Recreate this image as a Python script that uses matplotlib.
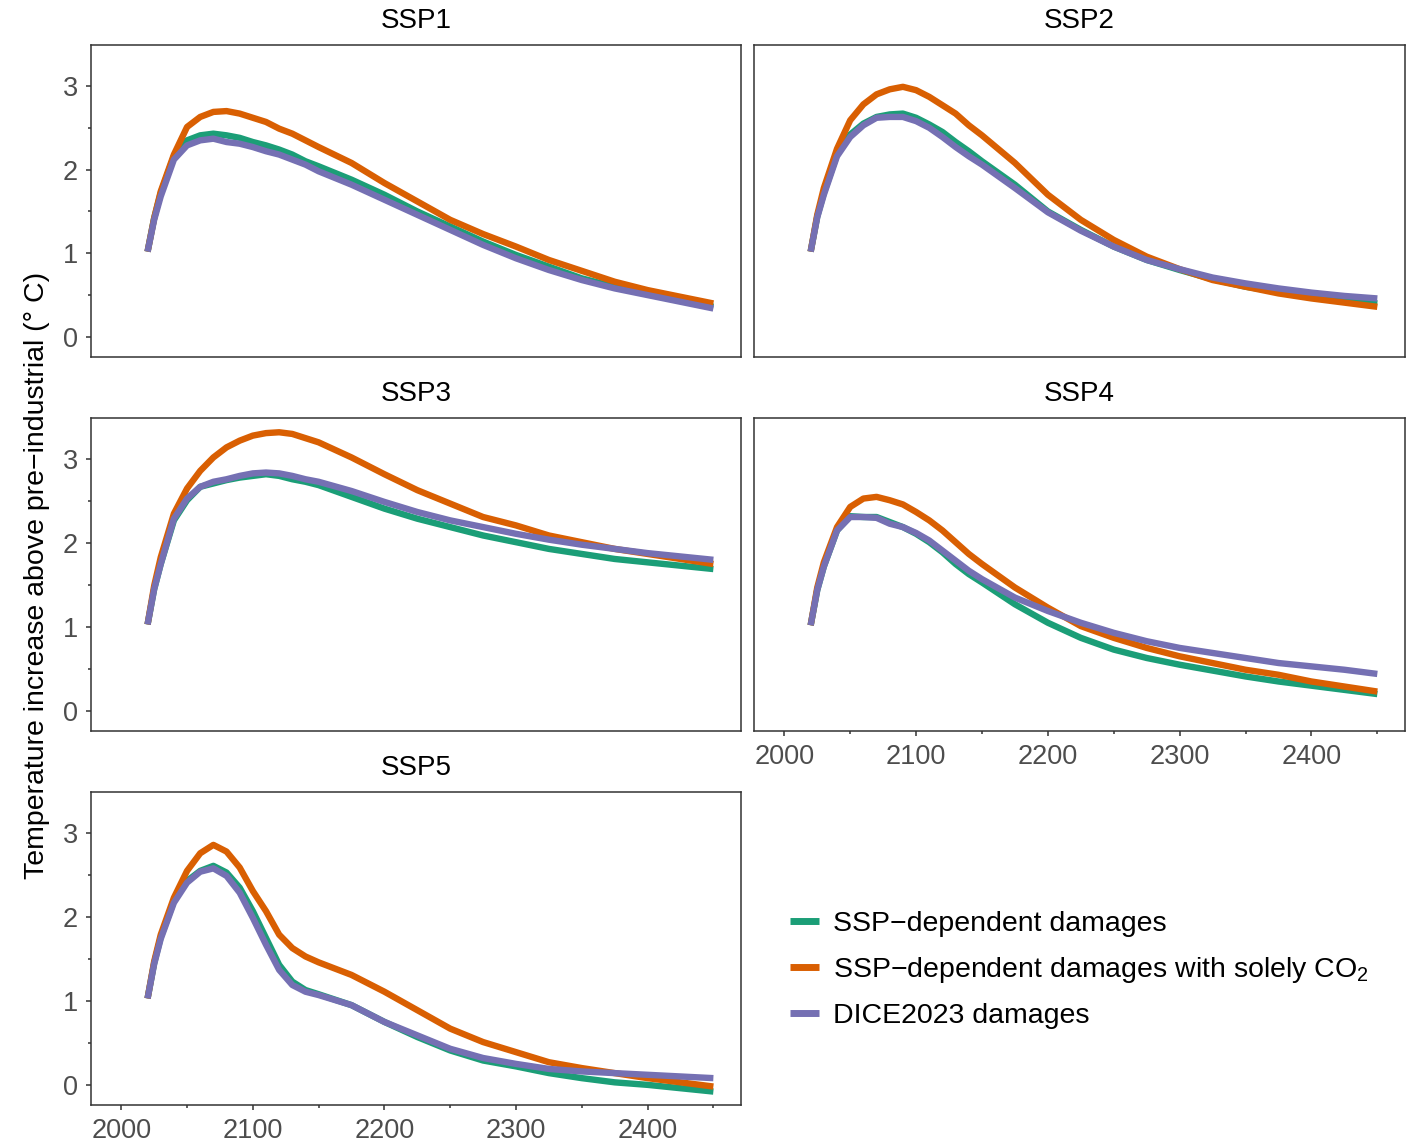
import numpy as np
import matplotlib.pyplot as plt
from matplotlib.ticker import MultipleLocator

plt.rcParams['font.family'] = ['Liberation Sans', 'DejaVu Sans']
plt.rcParams['mathtext.fontset'] = 'custom'
plt.rcParams['mathtext.rm'] = 'Liberation Sans'
plt.rcParams['mathtext.default'] = 'regular'

years = [2020, 2025, 2030, 2040, 2050, 2060, 2070, 2080, 2090, 2100, 2110, 2120,
         2130, 2140, 2150, 2175, 2200, 2225, 2250, 2275, 2300, 2325, 2350, 2375,
         2400, 2425, 2450]

# temperature paths per scenario: ssp-dependent, ssp-dependent CO2 only, DICE2023
ssp1_dep = [1.02, 1.42, 1.72, 2.16, 2.35, 2.41, 2.43, 2.41, 2.38, 2.33, 2.29, 2.24,
            2.18, 2.10, 2.04, 1.88, 1.70, 1.50, 1.32, 1.14, 0.98, 0.84, 0.70, 0.60,
            0.52, 0.44, 0.36]
ssp1_co2 = [1.02, 1.42, 1.74, 2.18, 2.51, 2.63, 2.69, 2.70, 2.67, 2.62, 2.57, 2.49,
            2.43, 2.35, 2.27, 2.08, 1.84, 1.62, 1.40, 1.23, 1.08, 0.92, 0.79, 0.66,
            0.56, 0.48, 0.40]
ssp1_dice = [1.02, 1.40, 1.68, 2.12, 2.29, 2.35, 2.37, 2.33, 2.31, 2.27, 2.22, 2.18,
             2.12, 2.06, 1.98, 1.82, 1.64, 1.46, 1.28, 1.10, 0.94, 0.80, 0.68, 0.58,
             0.50, 0.42, 0.34]

ssp2_dep = [1.02, 1.44, 1.72, 2.18, 2.42, 2.55, 2.63, 2.66, 2.67, 2.62, 2.54, 2.45,
            2.33, 2.22, 2.10, 1.82, 1.50, 1.28, 1.08, 0.92, 0.80, 0.69, 0.60, 0.54,
            0.49, 0.44, 0.40]
ssp2_co2 = [1.02, 1.46, 1.78, 2.25, 2.59, 2.78, 2.90, 2.96, 2.99, 2.95, 2.87, 2.77,
            2.67, 2.53, 2.41, 2.08, 1.70, 1.40, 1.16, 0.96, 0.81, 0.68, 0.60, 0.52,
            0.46, 0.41, 0.36]
ssp2_dice = [1.02, 1.43, 1.70, 2.16, 2.39, 2.53, 2.62, 2.63, 2.63, 2.58, 2.50, 2.39,
             2.27, 2.16, 2.06, 1.78, 1.49, 1.27, 1.08, 0.92, 0.81, 0.71, 0.64, 0.58,
             0.53, 0.49, 0.46]

ssp3_dep = [1.03, 1.45, 1.75, 2.27, 2.51, 2.67, 2.71, 2.75, 2.78, 2.80, 2.82, 2.80,
            2.76, 2.73, 2.69, 2.55, 2.41, 2.29, 2.19, 2.09, 2.01, 1.93, 1.87, 1.81,
            1.77, 1.73, 1.69]
ssp3_co2 = [1.03, 1.49, 1.83, 2.35, 2.65, 2.86, 3.02, 3.14, 3.22, 3.28, 3.31, 3.32,
            3.30, 3.25, 3.20, 3.02, 2.82, 2.63, 2.47, 2.31, 2.21, 2.09, 2.01, 1.93,
            1.87, 1.81, 1.75]
ssp3_dice = [1.03, 1.45, 1.75, 2.29, 2.53, 2.67, 2.73, 2.76, 2.80, 2.83, 2.84, 2.83,
             2.80, 2.76, 2.73, 2.62, 2.49, 2.37, 2.27, 2.19, 2.11, 2.04, 1.98, 1.93,
             1.88, 1.84, 1.80]

ssp4_dep = [1.02, 1.44, 1.72, 2.15, 2.32, 2.31, 2.31, 2.25, 2.19, 2.11, 2.01, 1.89,
            1.75, 1.63, 1.53, 1.27, 1.05, 0.87, 0.73, 0.63, 0.55, 0.48, 0.41, 0.35,
            0.30, 0.25, 0.20]
ssp4_co2 = [1.02, 1.47, 1.77, 2.19, 2.43, 2.53, 2.55, 2.51, 2.46, 2.37, 2.27, 2.15,
            2.01, 1.87, 1.75, 1.47, 1.23, 1.01, 0.87, 0.75, 0.65, 0.57, 0.49, 0.43,
            0.35, 0.29, 0.23]
ssp4_dice = [1.02, 1.44, 1.72, 2.15, 2.31, 2.31, 2.30, 2.23, 2.19, 2.12, 2.03, 1.91,
             1.79, 1.67, 1.57, 1.35, 1.19, 1.05, 0.93, 0.83, 0.75, 0.69, 0.63, 0.57,
             0.53, 0.49, 0.44]

ssp5_dep = [1.03, 1.45, 1.76, 2.19, 2.43, 2.55, 2.61, 2.53, 2.35, 2.07, 1.75, 1.43,
            1.23, 1.13, 1.08, 0.95, 0.75, 0.57, 0.41, 0.29, 0.22, 0.14, 0.08, 0.03,
            0.00, -0.04, -0.08]
ssp5_co2 = [1.03, 1.47, 1.79, 2.23, 2.55, 2.76, 2.86, 2.78, 2.59, 2.31, 2.07, 1.79,
            1.63, 1.53, 1.46, 1.31, 1.11, 0.89, 0.67, 0.51, 0.39, 0.27, 0.20, 0.14,
            0.08, 0.03, -0.02]
ssp5_dice = [1.03, 1.44, 1.74, 2.17, 2.41, 2.54, 2.58, 2.49, 2.29, 1.99, 1.67, 1.37,
             1.19, 1.11, 1.07, 0.95, 0.75, 0.59, 0.43, 0.32, 0.25, 0.19, 0.16, 0.14,
             0.12, 0.10, 0.08]

panels = ['SSP1', 'SSP2', 'SSP3', 'SSP4', 'SSP5']
series = {
    'SSP1': (ssp1_dep, ssp1_co2, ssp1_dice),
    'SSP2': (ssp2_dep, ssp2_co2, ssp2_dice),
    'SSP3': (ssp3_dep, ssp3_co2, ssp3_dice),
    'SSP4': (ssp4_dep, ssp4_co2, ssp4_dice),
    'SSP5': (ssp5_dep, ssp5_co2, ssp5_dice),
}
labels = ['SSP\u2212dependent damages',
          'SSP\u2212dependent damages with solely CO$_2$',
          'DICE2023 damages']
colors = ['#1B9E77', '#D95F02', '#7570B3']

W, H = 1409, 1142
fig = plt.figure(figsize=(W / 100, H / 100), dpi=100)

# panel boxes in pixels: left, top, right, bottom
boxes = {
    'SSP1': (91, 45, 741, 357),
    'SSP2': (754, 45, 1405, 357),
    'SSP3': (91, 418, 741, 731),
    'SSP4': (754, 418, 1405, 731),
    'SSP5': (91, 792, 741, 1105),
}
edge = '#333333'
handles = []
for name in panels:
    l, t, r, b = boxes[name]
    ax = fig.add_axes([l / W, 1 - b / H, (r - l) / W, (b - t) / H])
    dep, co2, dice = series[name]
    for vals, c in zip((dep, co2, dice), colors):
        ln, = ax.plot(years, vals, color=c, lw=4.6, solid_capstyle='butt')
        if name == 'SSP1':
            handles.append(ln)
    ax.set_xlim(1977, 2471)
    ax.set_ylim(-0.24, 3.49)
    ax.xaxis.set_major_locator(MultipleLocator(100))
    ax.xaxis.set_minor_locator(MultipleLocator(50))
    ax.yaxis.set_major_locator(MultipleLocator(1))
    ax.yaxis.set_minor_locator(MultipleLocator(0.5))
    for s in ax.spines.values():
        s.set_color(edge)
        s.set_linewidth(1.1)
    ax.tick_params(which='major', length=3.8, width=1.1, color=edge,
                   labelsize=19.5, labelcolor='#4D4D4D', pad=5.5)
    ax.tick_params(which='minor', length=2.2, width=1.1, color=edge)
    if name not in ('SSP4', 'SSP5'):
        ax.tick_params(axis='x', which='both', bottom=False, labelbottom=False)
    if name in ('SSP2', 'SSP4'):
        ax.tick_params(axis='y', which='both', left=False, labelleft=False)
    ax.set_title(name, fontsize=20, color='black', pad=12)

fig.text(0.026, 0.4965, 'Temperature increase above pre\u2212industrial (\u00b0 C)',
         rotation=90, va='center', ha='center', fontsize=20.5)

leg = fig.legend(handles, labels, loc='center left',
                 bbox_to_anchor=(776 / W, 1 - 970 / H), frameon=False,
                 fontsize=20.5, handlelength=1.0, handletextpad=0.5,
                 labelspacing=0.64, borderpad=0)
for h in leg.get_lines():
    h.set_linewidth(5)

fig.savefig('out.png', dpi=100)
